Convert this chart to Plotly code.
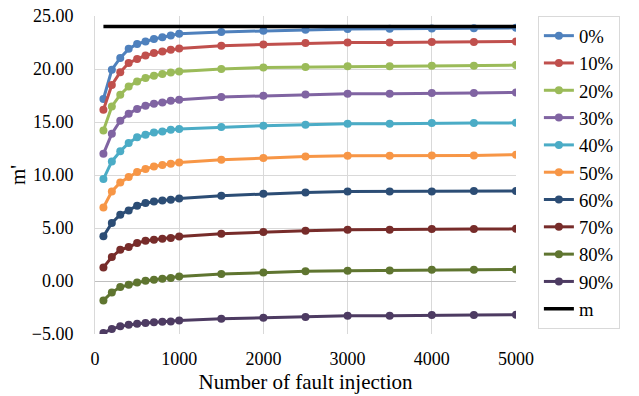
import plotly.graph_objects as go

x_vals = [100, 200, 300, 400, 500, 600, 700, 800, 900, 1000,
          1500, 2000, 2500, 3000, 3500, 4000, 4500, 5000]

series_names = ["0%", "10%", "20%", "30%", "40%", "50%", "60%", "70%", "80%", "90%"]

s0 = [17.17, 19.93, 21.04, 21.90, 22.36, 22.60, 22.83, 23.00, 23.17, 23.33,
      23.50, 23.60, 23.70, 23.77, 23.80, 23.83, 23.85, 23.88]
s10 = [16.16, 18.50, 19.70, 20.57, 20.94, 21.28, 21.50, 21.66, 21.82, 21.94,
       22.20, 22.32, 22.45, 22.50, 22.50, 22.55, 22.55, 22.60]
s20 = [14.20, 16.47, 17.58, 18.36, 18.83, 19.15, 19.37, 19.53, 19.68, 19.77,
       20.00, 20.15, 20.19, 20.25, 20.25, 20.30, 20.30, 20.37]
s30 = [12.00, 13.90, 15.12, 15.78, 16.23, 16.54, 16.73, 16.85, 17.00, 17.10,
       17.36, 17.48, 17.60, 17.67, 17.67, 17.74, 17.74, 17.79]
s40 = [9.62, 11.28, 12.23, 13.02, 13.55, 13.80, 14.02, 14.10, 14.27, 14.34,
       14.53, 14.65, 14.75, 14.84, 14.84, 14.90, 14.90, 14.92]
s50 = [6.94, 8.45, 9.30, 9.80, 10.28, 10.57, 10.81, 10.94, 11.07, 11.19,
       11.44, 11.60, 11.75, 11.82, 11.82, 11.85, 11.85, 11.92]
s60 = [4.21, 5.47, 6.25, 6.66, 7.10, 7.36, 7.51, 7.60, 7.67, 7.79,
       8.05, 8.24, 8.36, 8.45, 8.45, 8.45, 8.48, 8.49]
s70 = [1.28, 2.26, 2.95, 3.20, 3.58, 3.80, 3.90, 3.99, 4.05, 4.20,
       4.46, 4.62, 4.74, 4.84, 4.84, 4.90, 4.90, 4.92]
s80 = [-1.83, -1.08, -0.57, -0.35, -0.13, 0.03, 0.12, 0.22, 0.28, 0.43,
       0.66, 0.81, 0.91, 0.97, 0.99, 1.07, 1.07, 1.09]
s90 = [-4.90, -4.53, -4.28, -4.12, -4.03, -3.96, -3.90, -3.84, -3.81, -3.72,
       -3.56, -3.46, -3.40, -3.27, -3.27, -3.21, -3.21, -3.18]

m_x = [100, 5000]
m_vals = [24.0, 24.0]

colors = ["#4F81BD", "#C0504D", "#9BBB59", "#8064A2", "#4BACC6",
          "#F79646", "#2C4D75", "#772C2A", "#5F7530", "#4D3B62"]

all_series = [s0, s10, s20, s30, s40, s50, s60, s70, s80, s90]

fig = go.Figure()
for name, ys, c in zip(series_names, all_series, colors):
    fig.add_trace(go.Scatter(
        x=x_vals, y=ys, name=name, mode="lines+markers",
        line=dict(color=c, width=3),
        marker=dict(color=c, size=8),
    ))
fig.add_trace(go.Scatter(
    x=m_x, y=m_vals, name="m", mode="lines",
    line=dict(color="black", width=3.5),
))

serif = "Liberation Serif"
fig.update_layout(
    width=639, height=396,
    margin=dict(l=95, r=123, t=16, b=62),
    paper_bgcolor="white", plot_bgcolor="white",
    font=dict(family=serif, size=18, color="black"),
    showlegend=True,
    legend=dict(
        x=1.052, y=1.0, xanchor="left", yanchor="top",
        bordercolor="#D9D9D9", borderwidth=1,
        font=dict(family=serif, size=18.7, color="black"),
        tracegroupgap=0,
    ),
    xaxis=dict(
        range=[0, 5000], tickmode="linear", tick0=0, dtick=1000,
        showgrid=True, gridcolor="#D9D9D9", gridwidth=1,
        zeroline=False, showline=False, ticks="",
        automargin=False, ticklabelstandoff=12,
        ticklabeloverflow="allow",
        tickfont=dict(family=serif, size=18),
        title=dict(text="Number of fault injection",
                   font=dict(family=serif, size=21), standoff=6),
    ),
    yaxis=dict(
        range=[-5, 25], tickmode="linear", tick0=-5, dtick=5,
        tickformat=".2f",
        showgrid=True, gridcolor="#D9D9D9", gridwidth=1,
        zeroline=True, zerolinecolor="#BFBFBF", zerolinewidth=1,
        showline=True, linecolor="#D9D9D9",
        ticks="", ticklabelstandoff=17,
        ticklabeloverflow="allow",
        automargin=False,
        tickfont=dict(family=serif, size=18),
        title=dict(text="m'", font=dict(family=serif, size=21), standoff=0),
    ),
)

fig.write_html(
    "out.html",
    config={"displayModeBar": False},
    post_script="document.body.style.margin='0';",
)
